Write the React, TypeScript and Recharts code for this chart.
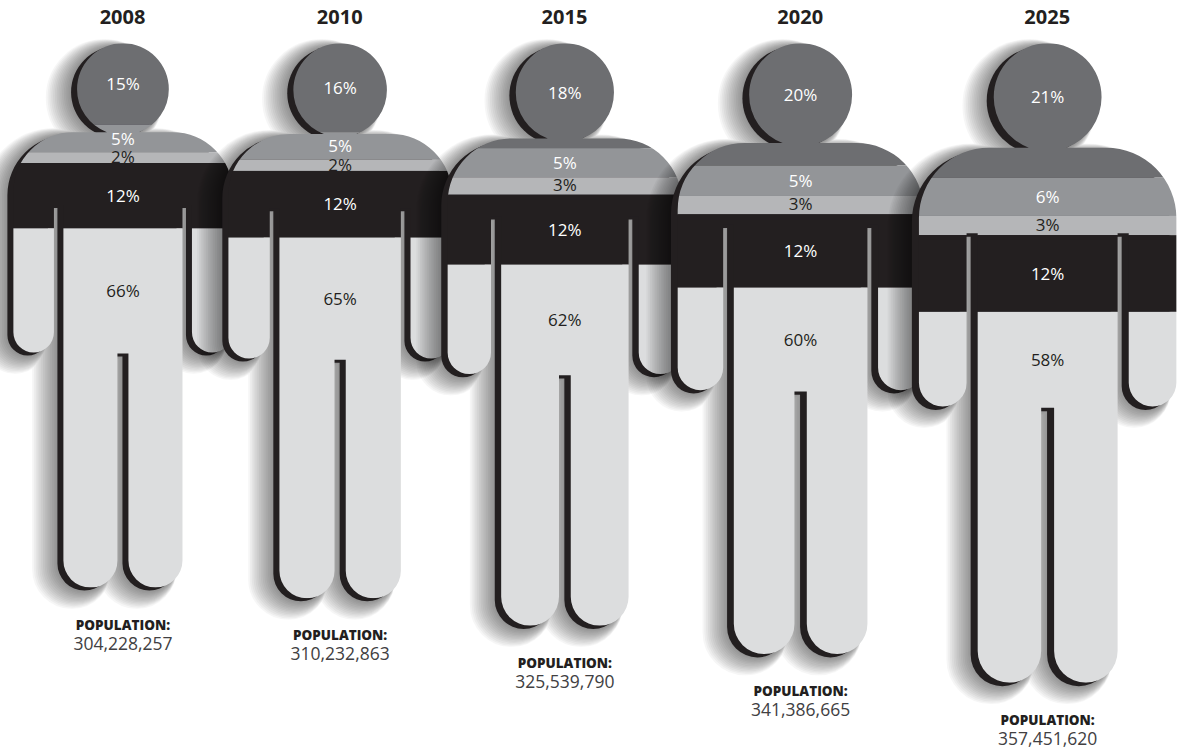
import React from 'react';
import { BarChart, Bar, XAxis, YAxis } from 'recharts';

const years = ['2008', '2010', '2015', '2020', '2025'];
const population = [304228257, 310232863, 325539790, 341386665, 357451620];

// Share of the population per band, top of the figure to the bottom
const headShare = [15, 16, 18, 20, 21];
const upperShare = [5, 5, 5, 5, 6];
const lowerShare = [2, 2, 3, 3, 3];
const chestShare = [12, 12, 12, 12, 12];
const bodyShare = [66, 65, 62, 60, 58];

const bands = [headShare, upperShare, lowerShare, chestShare, bodyShare];
const bandFill = ['#6d6e71', '#939598', '#b5b6b8', '#231f20', '#dcddde'];
const bandText = ['#ffffff', '#ffffff', '#231f20', '#ffffff', '#231f20'];

const FONT = '"Open Sans", sans-serif';
const millions = population.map(p => p / 1e6);
const total = millions.reduce((a, b) => a + b, 0);

// Every figure gets a slot as wide as its population
const slotCentres = millions.map((m, i) =>
  millions.slice(0, i).reduce((a, b) => a + b, 0) + m / 2
);

const rows = years.map((_, i) => {
  const row: Record<string, number> = { slot: slotCentres[i] };
  bands.forEach((band, j) => {
    row[`b${j}_${i}`] = (millions[i] * band[i]) / 100;
  });
  return row;
});

// Silhouette proportions, as a fraction of the figure's height
const HEAD_R = 0.0843;
const SHOULDER_TOP = 0.1633;
const SHOULDER_R = 0.11;
const HALF_WIDTH = 0.2013;
const ARM_INNER = 0.1268;
const TORSO = 0.1094;
const LEG_GAP = 0.0101;
const SLIT_TOP = 0.297;
const ARM_BOTTOM = 0.568;
const CROTCH = 0.57;

// Soft shadow: stacked faint outlines, each one wider and further out
const SOFT_STEPS = [1, 2, 3, 4, 5, 6, 7, 8, 9, 10, 11, 12, 13, 14];

const bodyPath = (c: number, top: number, h: number) => {
  const X = (u: number) => c + u * h;
  const Y = (v: number) => top + v * h;
  const r = SHOULDER_R * h;
  const ar = ((HALF_WIDTH - ARM_INNER) / 2) * h;
  const lr = ((TORSO - LEG_GAP) / 2) * h;
  const armEnd = ARM_BOTTOM - ar / h;
  const legEnd = 1 - lr / h;
  return [
    `M${X(-HALF_WIDTH + SHOULDER_R)} ${Y(SHOULDER_TOP)}`,
    `H${X(HALF_WIDTH - SHOULDER_R)}`,
    `A${r} ${r} 0 0 1 ${X(HALF_WIDTH)} ${Y(SHOULDER_TOP + SHOULDER_R)}`,
    `V${Y(armEnd)}`,
    `A${ar} ${ar} 0 0 1 ${X(ARM_INNER)} ${Y(armEnd)}`,
    `V${Y(SLIT_TOP)}`,
    `H${X(TORSO)}`,
    `V${Y(legEnd)}`,
    `A${lr} ${lr} 0 0 1 ${X(LEG_GAP)} ${Y(legEnd)}`,
    `V${Y(CROTCH)}`,
    `H${X(-LEG_GAP)}`,
    `V${Y(legEnd)}`,
    `A${lr} ${lr} 0 0 1 ${X(-TORSO)} ${Y(legEnd)}`,
    `V${Y(SLIT_TOP)}`,
    `H${X(-ARM_INNER)}`,
    `V${Y(armEnd)}`,
    `A${ar} ${ar} 0 0 1 ${X(-HALF_WIDTH)} ${Y(armEnd)}`,
    `V${Y(SHOULDER_TOP + SHOULDER_R)}`,
    `A${r} ${r} 0 0 1 ${X(-HALF_WIDTH + SHOULDER_R)} ${Y(SHOULDER_TOP)}`,
    'Z',
  ].join(' ');
};

const Person = ({ c, top, h, fill, spread = 0 }: { c: number; top: number; h: number; fill: string; spread?: number }) => (
  <g fill={fill} stroke={spread ? fill : 'none'} strokeWidth={spread * 2} strokeLinejoin="round">
    <circle cx={c} cy={top + HEAD_R * h} r={HEAD_R * h} />
    <path d={bodyPath(c, top, h)} />
  </g>
);

const Segment = (props: any) => {
  const { x, y, width, height, index, fig, seg } = props;
  if (index !== fig || !height) return <g />;

  const bandTop = Math.min(y, y + height);
  const bandH = Math.abs(height);
  const perMillion = bandH / ((millions[fig] * bands[seg][fig]) / 100);
  const h = millions[fig] * perMillion;
  const above = bands.slice(0, seg).reduce((a, b) => a + b[fig], 0);
  const top = bandTop - (millions[fig] * above * perMillion) / 100;
  const c = x + width / 2;
  const clip = `person-${fig}`;

  let labelY = bandTop + bandH / 2;
  if (seg === 0) labelY = Math.min(labelY, top + HEAD_R * h);
  if (seg === 2) labelY -= 1;
  if (seg === 4) labelY = (bandTop + top + CROTCH * h) / 2;

  return (
    <g>
      {seg === 0 && (
        <>
          <defs>
            <clipPath id={clip}>
              <circle cx={c} cy={top + HEAD_R * h} r={HEAD_R * h} />
              <path d={bodyPath(c, top, h)} />
            </clipPath>
          </defs>
          {SOFT_STEPS.map(s => (
            <g
              key={s}
              opacity={0.032}
              transform={`translate(${-(6 + s * 0.9)} ${3 + s * 0.4})`}
            >
              <Person c={c} top={top} h={h} fill="#000000" spread={s * 0.9} />
            </g>
          ))}
          <g transform={`translate(${-0.011 * h} ${0.0055 * h})`}>
            <Person c={c} top={top} h={h} fill="#231f20" />
          </g>
        </>
      )}
      <rect
        x={c - 0.3 * h}
        y={bandTop}
        width={0.6 * h}
        height={bandH}
        fill={bandFill[seg]}
        clipPath={`url(#${clip})`}
      />
      <text
        x={c}
        y={labelY}
        dy="0.36em"
        textAnchor="middle"
        fontFamily={FONT}
        fontSize={17}
        fontWeight={500}
        fill={bandText[seg]}
      >
        {bands[seg][fig]}%
      </text>
      {seg === 4 && (
        <>
          <text
            x={c}
            y={top + h + 42}
            textAnchor="middle"
            fontFamily={FONT}
            fontSize={13.5}
            fontWeight={800}
            fill="#231f20"
          >
            POPULATION:
          </text>
          <text
            x={c}
            y={top + h + 62}
            textAnchor="middle"
            fontFamily={FONT}
            fontSize={17.5}
            fill="#414042"
          >
            {population[fig].toLocaleString('en-US')}
          </text>
        </>
      )}
    </g>
  );
};

export default function App() {
  return (
    <div style={{ position: 'absolute', left: 0, top: 0, width: 1182, height: 748, background: '#fff' }}>
      <BarChart
        width={1182}
        height={748}
        data={rows}
        barSize={2}
        margin={{ top: 3.3, right: 8.4, bottom: 24.9, left: 15 }}
      >
        <XAxis
          xAxisId={0}
          type="number"
          dataKey="slot"
          orientation="top"
          height={40}
          domain={[0, total]}
          ticks={slotCentres}
          interval={0}
          tickFormatter={(v: number) => years[slotCentres.indexOf(v)]}
          axisLine={false}
          tickLine={false}
          tickSize={0}
          tickMargin={19}
          tick={{ fontFamily: FONT, fontWeight: 700, fontSize: 20, fill: '#231f20' }}
        />
        <YAxis hide reversed type="number" domain={[0, 380]} />
        {years.flatMap((year, fig) =>
          bands.map((_, seg) => (
            <Bar
              key={`${year}-${seg}`}
              dataKey={`b${seg}_${fig}`}
              stackId="people"
              fill={bandFill[seg]}
              isAnimationActive={false}
              shape={(p: any) => <Segment {...p} fig={fig} seg={seg} />}
            />
          ))
        )}
      </BarChart>
    </div>
  );
}
